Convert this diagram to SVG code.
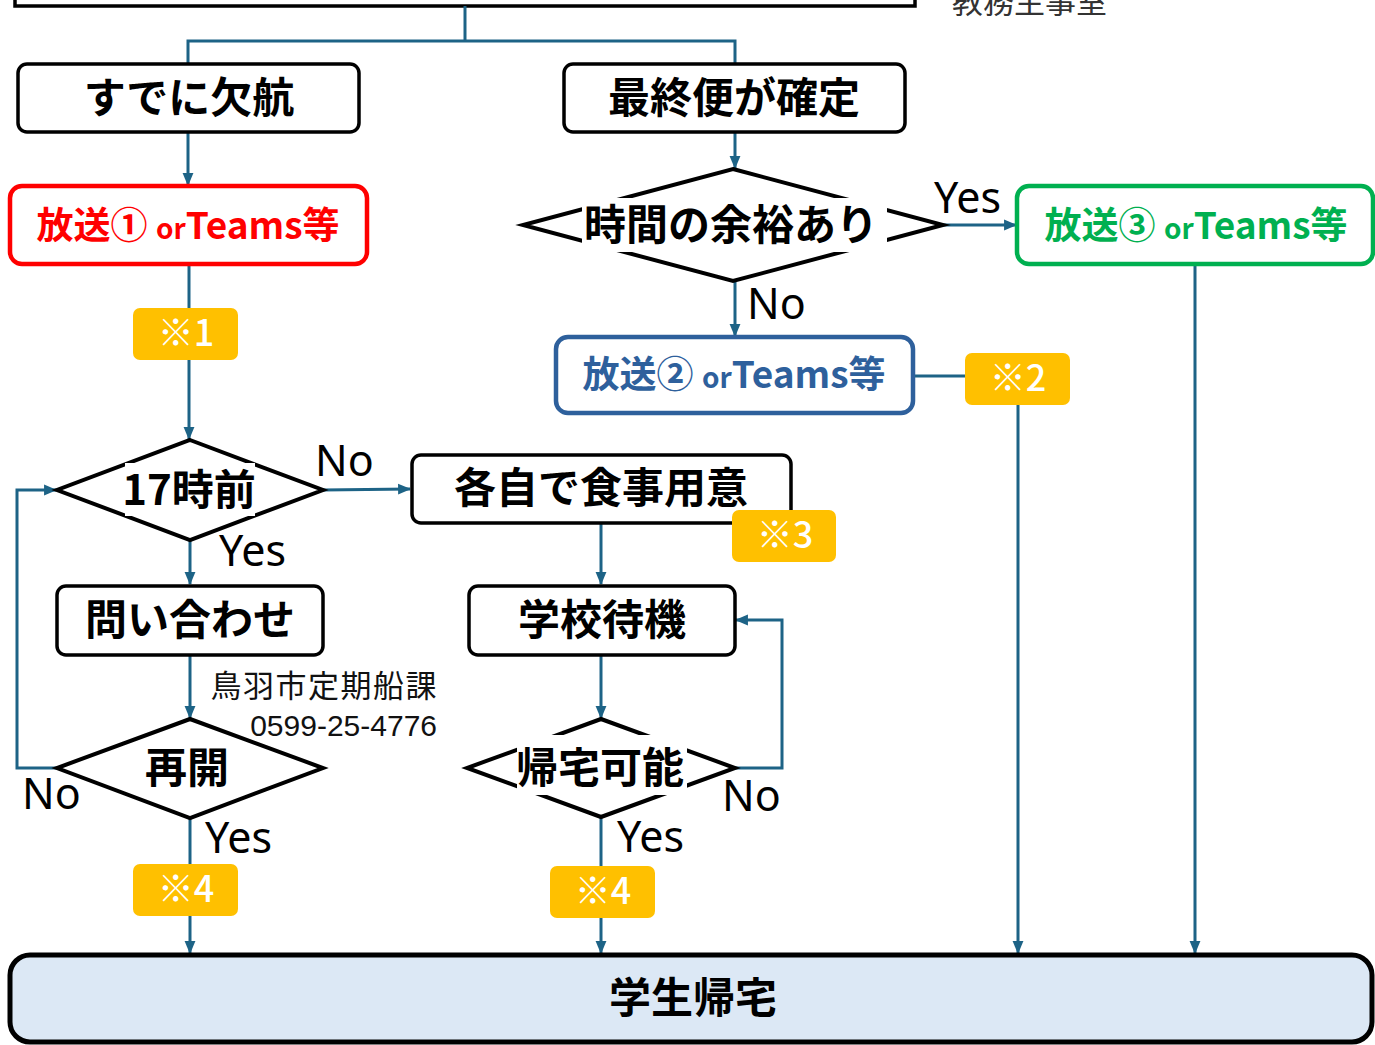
<svg xmlns="http://www.w3.org/2000/svg" width="1375" height="1045" viewBox="0 0 1375 1045">
<defs>
<style>
.box{fill:#fff;stroke:#000;stroke-width:3.5}
.dia{fill:#fff;stroke:#000;stroke-width:4}
.jp{font-family:"Noto Sans CJK JP","Noto Sans",sans-serif;font-weight:bold;font-size:42px;fill:#000;text-anchor:middle}
.lbl{font-family:"Noto Sans","Liberation Sans",sans-serif;font-size:43px;fill:#000}
.con{fill:none;stroke:#1D6386;stroke-width:3}
.badge{fill:#FFC000}
.bt{font-family:"Noto Sans CJK JP","Noto Sans",sans-serif;font-size:36px;fill:#fff;text-anchor:middle;font-weight:500}
.bc{font-family:"Noto Sans CJK JP","Noto Sans",sans-serif;font-weight:bold;font-size:37px;text-anchor:middle}
.sm{font-size:28px}
</style>
<marker id="ah" markerWidth="13" markerHeight="13" viewBox="0 0 12 12" refX="11" refY="6" orient="auto" markerUnits="userSpaceOnUse">
<path d="M0,1 L12,6 L0,11 Z" fill="#1D6386"/>
</marker>
</defs>
<rect width="1375" height="1045" fill="#fff"/>

<g id="top">
<rect x="15" y="-40" width="900" height="46" class="box" stroke-width="4"/>
<text x="952" y="13" font-family="'Noto Sans CJK JP',sans-serif" font-size="31" fill="#333">教務主事室</text>
</g>

<g id="connectors">
<polyline class="con" points="465,6 465,41"/>
<polyline class="con" points="188,64 188,41 735,41 735,64" stroke-width="3.5"/>
<line class="con" x1="188" y1="132" x2="188" y2="185" marker-end="url(#ah)"/>
<line class="con" x1="735" y1="132" x2="735" y2="168" marker-end="url(#ah)"/>
<line class="con" x1="943" y1="225" x2="1016" y2="225" marker-end="url(#ah)"/>
<line class="con" x1="735" y1="281" x2="735" y2="336" marker-end="url(#ah)"/>
<line class="con" x1="913" y1="376" x2="965" y2="376"/>
<line class="con" x1="1018" y1="405" x2="1018" y2="953" marker-end="url(#ah)"/>
<line class="con" x1="1195" y1="264" x2="1195" y2="953" marker-end="url(#ah)"/>
<line class="con" x1="189" y1="264" x2="189" y2="308"/>
<line class="con" x1="189" y1="360" x2="189" y2="439" marker-end="url(#ah)"/>
<line class="con" x1="323" y1="490" x2="410" y2="489" marker-end="url(#ah)"/>
<line class="con" x1="190" y1="540" x2="190" y2="584" marker-end="url(#ah)"/>
<line class="con" x1="190" y1="655" x2="190" y2="718" marker-end="url(#ah)"/>
<polyline class="con" points="57,768 17,768 17,490 56,490" marker-end="url(#ah)"/>
<line class="con" x1="190" y1="818" x2="190" y2="864"/>
<line class="con" x1="190" y1="916" x2="190" y2="953" marker-end="url(#ah)"/>
<line class="con" x1="601" y1="523" x2="601" y2="584" marker-end="url(#ah)"/>
<line class="con" x1="601" y1="655" x2="601" y2="718" marker-end="url(#ah)"/>
<polyline class="con" points="735,768 782,768 782,620 736,620" marker-end="url(#ah)"/>
<line class="con" x1="601" y1="817" x2="601" y2="866"/>
<line class="con" x1="601" y1="918" x2="601" y2="953" marker-end="url(#ah)"/>
</g>

<g id="n-kekko">
<rect x="18" y="64" width="341" height="68" rx="9" class="box"/>
<text x="189" y="113" class="jp">すでに欠航</text>
</g>
<g id="n-saishu">
<rect x="564" y="64" width="341" height="68" rx="9" class="box"/>
<text x="734" y="113" class="jp">最終便が確定</text>
</g>

<g id="n-hoso1">
<rect x="10" y="186" width="357" height="78" rx="12" fill="#fff" stroke="#FF0000" stroke-width="4.5"/>
<text x="188" y="239" class="bc" fill="#FF0000">放送① <tspan class="sm">or</tspan>Teams等</text>
</g>

<g id="n-yoyu">
<polygon points="733,169 943,225 733,281 523,225" class="dia"/>
<rect x="582" y="198" width="305" height="54" fill="#fff"/>
<text x="731" y="240" class="jp">時間の余裕あり</text>
</g>

<g id="n-hoso3">
<rect x="1017" y="186" width="356" height="78" rx="12" fill="#fff" stroke="#00B050" stroke-width="4.5"/>
<text x="1196" y="239" class="bc" fill="#00B050">放送③ <tspan class="sm">or</tspan>Teams等</text>
</g>

<g id="n-hoso2">
<rect x="556" y="337" width="357" height="76" rx="12" fill="#fff" stroke="#2E609C" stroke-width="4.5"/>
<text x="734" y="388" class="bc" fill="#2E609C">放送② <tspan class="sm">or</tspan>Teams等</text>
</g>

<g id="n-17">
<polygon points="190,440 323,490 190,540 57,490" class="dia"/>
<rect x="125" y="463" width="130" height="53" fill="#fff"/>
<text x="189" y="505" class="jp">17時前</text>
</g>

<g id="n-shokuji">
<rect x="412" y="455" width="379" height="68" rx="9" class="box"/>
<text x="601" y="503" class="jp">各自で食事用意</text>
</g>

<g id="n-toiawase">
<rect x="57" y="586" width="266" height="69" rx="9" class="box"/>
<text x="190" y="635" class="jp">問い合わせ</text>
</g>

<g id="n-taiki">
<rect x="469" y="586" width="266" height="69" rx="9" class="box"/>
<text x="602" y="635" class="jp">学校待機</text>
</g>

<g id="n-saikai">
<polygon points="190,719 323,768 190,818 57,768" class="dia"/>
<text x="187" y="783" class="jp">再開</text>
</g>

<g id="n-kitaku">
<polygon points="601,719 735,768 601,817 467,768" class="dia"/>
<rect x="517" y="735" width="170" height="60" fill="#fff"/>
<text x="600" y="783" class="jp">帰宅可能</text>
</g>

<g id="n-gakusei">
<rect x="10" y="955" width="1362" height="87" rx="20" fill="#DCE8F5" stroke="#000" stroke-width="5"/>
<text x="693" y="1013" class="jp">学生帰宅</text>
</g>

<g id="badges">
<rect x="133" y="308" width="105" height="52" rx="7" class="badge"/>
<text x="186" y="346" class="bt">※1</text>
<rect x="965" y="353" width="105" height="52" rx="7" class="badge"/>
<text x="1018" y="391" class="bt">※2</text>
<rect x="732" y="510" width="104" height="52" rx="7" class="badge"/>
<text x="785" y="548" class="bt">※3</text>
<rect x="133" y="864" width="105" height="52" rx="7" class="badge"/>
<text x="186" y="902" class="bt">※4</text>
<rect x="550" y="866" width="105" height="52" rx="7" class="badge"/>
<text x="603" y="904" class="bt">※4</text>
</g>

<g id="labels">
<text x="934" y="213" class="lbl">Yes</text>
<text x="747" y="319" class="lbl">No</text>
<text x="315" y="476" class="lbl">No</text>
<text x="219" y="566" class="lbl">Yes</text>
<text x="22" y="809" class="lbl">No</text>
<text x="205" y="853" class="lbl">Yes</text>
<text x="722" y="811" class="lbl">No</text>
<text x="617" y="852" class="lbl">Yes</text>
<text x="438" y="697" text-anchor="end" font-family="'Noto Sans CJK JP',sans-serif" font-size="31" letter-spacing="1.5" fill="#111">鳥羽市定期船課</text>
<text x="437" y="736" text-anchor="end" font-family="'Liberation Sans',Arial,sans-serif" font-size="30" fill="#111">0599-25-4776</text>
</g>
</svg>
